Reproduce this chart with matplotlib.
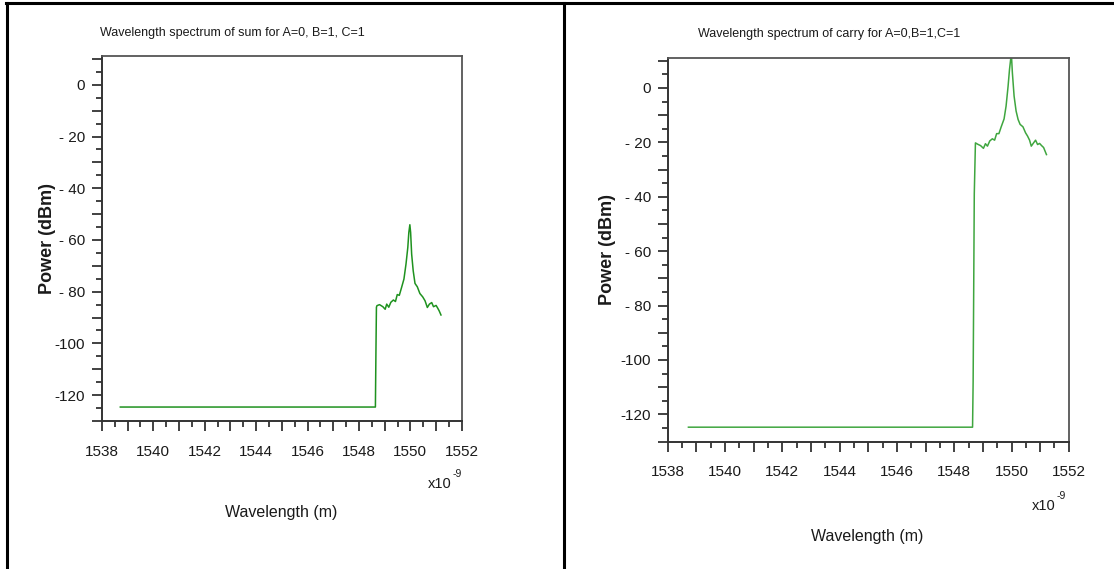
import numpy as np
import matplotlib
matplotlib.use("Agg")
import matplotlib.pyplot as plt
from matplotlib.ticker import MultipleLocator, FuncFormatter
from matplotlib.lines import Line2D

# 波长 (nm) 与功率 (dBm)：和 (sum) 的光谱
sum_wl = [1538.72, 1548.64, 1548.66, 1548.68, 1548.70, 1548.80, 1548.93, 1549.02,
          1549.08, 1549.16, 1549.24, 1549.34, 1549.42, 1549.49, 1549.57, 1549.66,
          1549.75, 1549.83, 1549.90, 1549.94, 1549.98, 1550.01, 1550.05, 1550.11,
          1550.18, 1550.27, 1550.37, 1550.48, 1550.57, 1550.66, 1550.74, 1550.83,
          1550.90, 1551.00, 1551.06, 1551.12, 1551.19]
sum_pw = [-124.6, -124.6, -104.0, -86.0, -85.4, -85.0, -85.8, -86.8,
          -84.8, -86.0, -84.1, -83.2, -83.8, -81.1, -81.4, -78.3,
          -75.1, -69.3, -62.9, -57.1, -54.1, -57.1, -65.5, -71.9,
          -76.8, -78.1, -80.7, -82.0, -83.5, -86.1, -84.8, -84.2,
          -85.8, -85.3, -86.3, -87.4, -89.0]

# 进位 (carry) 的光谱
carry_wl = [1538.72, 1548.64, 1548.66, 1548.68, 1548.70, 1548.74, 1548.82, 1548.92,
            1549.02, 1549.09, 1549.16, 1549.24, 1549.33, 1549.41, 1549.48, 1549.56,
            1549.64, 1549.74, 1549.81, 1549.88, 1549.93, 1549.97, 1550.00, 1550.03,
            1550.09, 1550.16, 1550.23, 1550.30, 1550.40, 1550.49, 1550.56, 1550.63,
            1550.69, 1550.77, 1550.84, 1550.91, 1550.98, 1551.05, 1551.12, 1551.22]
carry_pw = [-124.7, -124.7, -108.0, -74.0, -39.0, -20.2, -20.7, -21.2,
            -22.2, -20.5, -21.4, -19.5, -18.7, -19.2, -16.8, -16.8,
            -14.3, -11.4, -6.7, 0.6, 6.8, 10.5, 11.5, 5.6,
            -3.0, -8.5, -11.6, -13.4, -14.3, -16.5, -17.7, -19.2,
            -21.4, -20.2, -19.2, -20.8, -20.4, -21.2, -21.9, -24.5]

titles = ["Wavelength spectrum of sum for A=0, B=1, C=1",
          "Wavelength spectrum of carry for A=0,B=1,C=1"]

W, H = 1114, 569
FONT = ['Liberation Sans', 'DejaVu Sans']
TXT = '#1a1a1a'


def px(x, y):
    return x / W, 1 - y / H


def ytick_fmt(v, pos):
    v = int(round(v))
    if v % 20 != 0:
        return ''
    if v == 0:
        return '0'
    if v > -100:
        return '- %d' % abs(v)
    return '%d' % v


def xtick_fmt(v, pos):
    v = int(round(v))
    return '%d' % v if v % 2 == 0 else ''


def draw_panel(rect, wl, pw, color):
    ax = fig.add_axes(rect)
    ax.plot(wl, pw, color=color, lw=1.1)
    ax.set_xlim(1538, 1552)
    ax.set_ylim(-130, 11)

    ax.xaxis.set_major_locator(MultipleLocator(1))
    ax.xaxis.set_minor_locator(MultipleLocator(0.5))
    ax.yaxis.set_major_locator(MultipleLocator(10))
    ax.yaxis.set_minor_locator(MultipleLocator(5))
    ax.xaxis.set_major_formatter(FuncFormatter(xtick_fmt))
    ax.yaxis.set_major_formatter(FuncFormatter(ytick_fmt))

    ax.tick_params(which='major', direction='out', length=7, width=1.3,
                   color='#333333', labelsize=11, labelcolor=TXT, pad=5)
    ax.tick_params(which='minor', direction='out', length=4, width=1.3,
                   color='#333333')
    ax.tick_params(axis='x', which='major', pad=10)
    for lab in ax.get_xticklabels() + ax.get_yticklabels():
        lab.set_family(FONT)

    for s in ['left', 'bottom']:
        ax.spines[s].set_color('#333333')
        ax.spines[s].set_linewidth(1.4)
    for s in ['top', 'right']:
        ax.spines[s].set_color('#555555')
        ax.spines[s].set_linewidth(1.3)
    return ax


fig = plt.figure(figsize=(W / 100, H / 100), dpi=100)
fig.patch.set_facecolor('white')

# 左图：sum
draw_panel([101.8 / W, 1 - 421 / H, 360 / W, 364.6 / H], sum_wl, sum_pw, '#1f921f')
# 右图：carry
draw_panel([667.8 / W, 1 - 441.6 / H, 401 / W, 383.6 / H], carry_wl, carry_pw, '#3fa63f')

# 标题、坐标轴名称
specs = [
    # title, ylabel, x10, 上标, xlabel 的位置 (像素)
    ((232, 33), (48, 238), (428, 484), (453, 474), (281, 512)),
    ((829, 34), (608, 250), (1032, 506), (1057, 496), (867, 537)),
]
for title, (tp, yp, xp, sp, lp) in zip(titles, specs):
    fig.text(*px(*tp), title, family=FONT, fontsize=9, color=TXT,
             ha='center', va='center')
    fig.text(*px(*yp), 'Power (dBm)', family=FONT, fontweight='bold',
             fontsize=13, color=TXT, rotation=90, ha='center', va='center')
    fig.text(*px(*xp), 'x10', family=FONT, fontsize=10.5, color=TXT,
             ha='left', va='center')
    fig.text(*px(*sp), '-9', family=FONT, fontsize=7.5, color=TXT,
             ha='left', va='center')
    fig.text(*px(*lp), 'Wavelength (m)', family=FONT, fontsize=11.5, color=TXT,
             ha='center', va='center')

# 表格边框
for xs, ys in [([6, 1114], [3, 3]), ([7, 7], [3, 569]), ([564, 564], [3, 569])]:
    fig.add_artist(Line2D([x / W for x in xs], [1 - y / H for y in ys],
                          color='black', lw=2.2, transform=fig.transFigure))

fig.savefig('out.png', dpi=100)
